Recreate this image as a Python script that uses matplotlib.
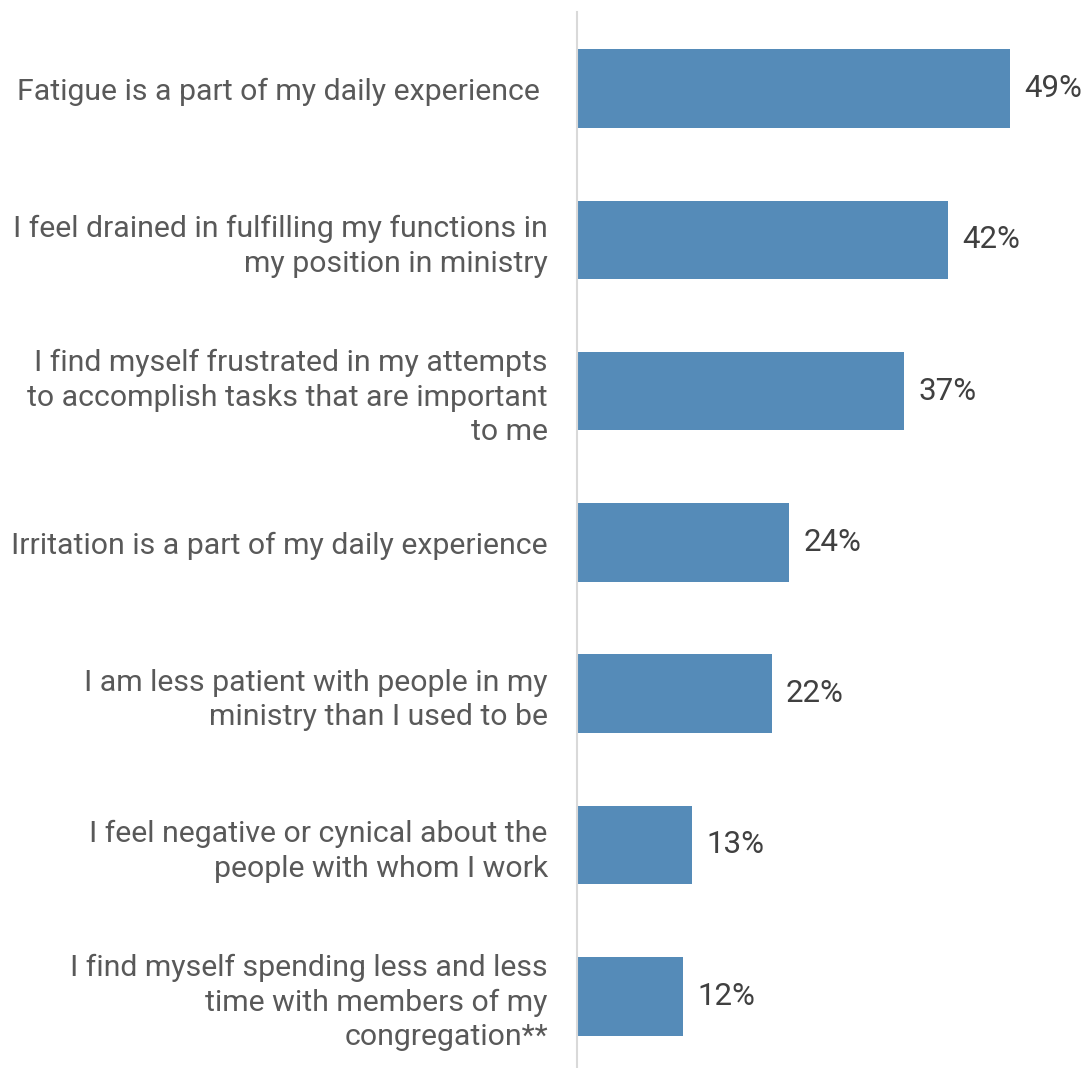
import matplotlib
matplotlib.use("Agg")
import matplotlib.pyplot as plt

categories = [
    "Fatigue is a part of my daily experience ",
    "I feel drained in fulfilling my functions in\nmy position in ministry",
    "I find myself frustrated in my attempts\nto accomplish tasks that are important\nto me",
    "Irritation is a part of my daily experience",
    "I am less patient with people in my\nministry than I used to be",
    "I feel negative or cynical about the\npeople with whom I work",
    "I find myself spending less and less\ntime with members of my\ncongregation**",
]
values = [49, 42, 37, 24, 22, 13, 12]
value_labels = ["49%", "42%", "37%", "24%", "22%", "13%", "12%"]

plt.rcParams['font.family'] = ['Roboto', 'DejaVu Sans']

W, H = 1090, 1068
fig = plt.figure(figsize=(W / 100, H / 100), dpi=100)
ax_left = 577 / W
ax = fig.add_axes([ax_left, 0, 1 - ax_left, 1 - 12 / H])

ypos = list(range(len(categories)))
ax.barh(ypos, values, height=0.52, color="#558BB8", zorder=2)

ax.set_xlim(0, 58.0)
ax.set_ylim(6.474, -0.506)

for s in ["top", "right", "bottom"]:
    ax.spines[s].set_visible(False)
ax.spines["left"].set_color("#d9d9d9")
ax.spines["left"].set_linewidth(1.5)
ax.set_xticks([])
ax.set_yticks(ypos)
ax.set_yticklabels(categories, fontsize=21.8, color="#595959", linespacing=1.3)
ax.tick_params(axis="y", length=0, pad=21)

for y, v, lab in zip(ypos, values, value_labels):
    ax.annotate(lab, xy=(v, y), xytext=(14, 0), textcoords="offset pixels",
                va="center", ha="left", fontsize=22.5, color="#404040")

fig.savefig("out.png", dpi=100)
